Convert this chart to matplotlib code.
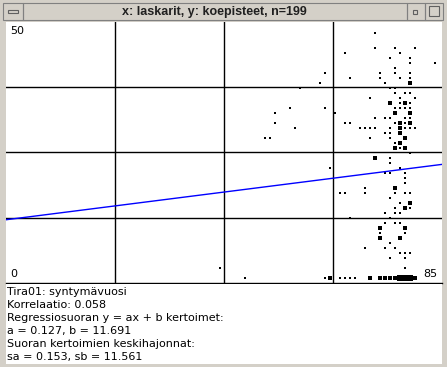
import matplotlib.pyplot as plt
from matplotlib.patches import Rectangle
from collections import Counter

# x: laskarit, y: koepisteet  (integer pairs, repeated pairs are drawn bigger)
laskarit = [
    73, 73, 77, 81, 67, 78, 76, 80, 85, 80, 77, 63, 74, 77, 80, 68, 74, 78, 80,
    62, 75, 80, 80, 58, 76, 77, 77, 79, 80, 72, 78, 81, 76, 76, 78, 79, 79, 79, 80,
    63, 56, 77, 78, 79, 80, 53, 65, 77, 77, 80, 80, 73, 75, 76, 79, 80,
    53, 67, 68, 77, 78, 78, 79, 80, 80, 57, 70, 71, 72, 73, 76, 78, 78, 79, 80, 81,
    75, 76, 78, 78, 51, 52, 72, 76, 79, 79, 77, 78, 78, 77, 77, 78, 79, 79,
    80, 73, 73, 76, 76, 64, 78, 75, 76, 79, 79, 79, 71, 77, 77,
    66, 67, 71, 77, 79, 80, 76, 78, 80, 80, 77, 79, 79, 80, 75, 77, 78,
    68, 76, 75, 77, 78, 74, 74, 79, 79, 74, 79, 74, 74, 78, 78, 78, 76,
    71, 75, 77, 78, 79, 80, 76, 79, 79, 42, 47,
    63, 64, 64, 66, 67, 68, 69, 72, 72, 74, 74, 74, 75, 75, 75, 75, 76, 76, 76,
    77, 77, 77, 78, 78, 78, 78, 78, 79, 79, 79, 79, 79, 79, 80, 80, 80, 80, 80,
    81, 81, 81,
]
koepisteet = [
    49, 46, 46, 46, 45, 45, 44, 44, 43, 43, 42, 41, 41, 41, 41, 40, 40, 40, 40,
    39, 39, 39, 39, 38, 38, 38, 37, 37, 37, 36, 36, 36, 35, 35, 35, 35, 35, 35, 35,
    34, 34, 34, 34, 34, 34, 33, 33, 33, 33, 33, 33, 32, 32, 32, 32, 32,
    31, 31, 31, 31, 31, 31, 31, 31, 31, 30, 30, 30, 30, 30, 30, 30, 30, 30, 30, 30,
    29, 29, 29, 29, 28, 28, 28, 28, 28, 28, 27, 27, 27, 26, 26, 26, 26, 26,
    25, 24, 24, 24, 23, 22, 22, 21, 21, 21, 20, 19, 18, 18, 18,
    17, 17, 17, 17, 17, 17, 16, 15, 15, 15, 14, 14, 14, 14, 13, 13, 13,
    12, 12, 11, 11, 11, 10, 10, 10, 10, 9, 9, 8, 8, 8, 8, 8, 7,
    6, 6, 6, 5, 5, 5, 4, 4, 2, 2, 0,
    0, 0, 0, 0, 0, 0, 0, 0, 0, 0, 0, 0, 0, 0, 0, 0, 0, 0, 0,
    0, 0, 0, 0, 0, 0, 0, 0, 0, 0, 0, 0, 0, 0, 0, 0, 0, 0, 0,
    0, 0, 0,
]

n = 199
a, b = 0.127, 11.691
stats = [
    "Tira01: syntymävuosi",
    "Korrelaatio: 0.058",
    "Regressiosuoran y = ax + b kertoimet:",
    "a = 0.127, b = 11.691",
    "Suoran kertoimien keskihajonnat:",
    "sa = 0.153, sb = 11.561",
]

W, H = 447, 367
GRAY = "#d4d0c8"

fig = plt.figure(figsize=(W / 100, H / 100), dpi=100, facecolor=GRAY)

def px_rect(x, y, w, h, **kw):
    # rectangle given in screen pixels (origin top-left)
    fig.patches.append(Rectangle((x / W, 1 - (y + h) / H), w / W, h / H,
                                 transform=fig.transFigure, **kw))

# window title bar
px_rect(0, 0, W, 22, facecolor=GRAY, edgecolor="none")
px_rect(3, 3, 20, 17, facecolor="none", edgecolor="#808080", lw=0.8)
px_rect(23, 3, 384, 17, facecolor="none", edgecolor="#808080", lw=0.8)
px_rect(407, 3, 18, 17, facecolor="none", edgecolor="#808080", lw=0.8)
px_rect(425, 3, 18, 17, facecolor="none", edgecolor="#808080", lw=0.8)
px_rect(8, 10, 10, 3, facecolor="none", edgecolor="#606060", lw=0.8)
px_rect(413, 10, 4, 4, facecolor="none", edgecolor="#606060", lw=0.8)
px_rect(429, 6, 10, 10, facecolor="none", edgecolor="#606060", lw=0.8)
fig.text(214 / W, 1 - 12 / H, f"x: laskarit, y: koepisteet, n={n}",
         ha="center", va="center", fontsize=9, fontweight="bold",
         family="Liberation Sans", color="#202020")

# white text panel under the plot
px_rect(6, 284, 436, 80, facecolor="white", edgecolor="none")
for i, line in enumerate(stats):
    fig.text(7 / W, 1 - (292 + 13 * i) / H, line, ha="left", va="center",
             fontsize=8, family="DejaVu Sans", color="black")

# plot area
ax = fig.add_axes([6 / W, 1 - 283 / H, 436 / W, 261 / H])
ax.set_facecolor("white")
xlim = (-0.8, 86.4)
ylim = (-1.06, 51.14)
ax.set_xlim(xlim)
ax.set_ylim(ylim)

for k in (1, 2, 3):
    ax.axvline(xlim[0] + k * (xlim[1] - xlim[0]) / 4, color="black", lw=1)
    ax.axhline(ylim[0] + k * (ylim[1] - ylim[0]) / 4, color="black", lw=1)

counts = Counter(zip(laskarit, koepisteet))
for (x, y), c in counts.items():
    side_px = 2.2 + 1.5 * (c - 1) ** 0.5
    ax.plot(x, y, marker="s", ms=side_px * 0.72, color="black", mew=0, ls="none")

ax.plot(xlim, [a * xlim[0] + b, a * xlim[1] + b], color="#0000ff", lw=1)

ax.text(0.01, 0.985, "50", transform=ax.transAxes, ha="left", va="top", fontsize=8)
ax.text(0.01, 0.015, "0", transform=ax.transAxes, ha="left", va="bottom", fontsize=8)
ax.text(0.99, 0.015, "85", transform=ax.transAxes, ha="right", va="bottom", fontsize=8)

ax.set_xticks([])
ax.set_yticks([])
for side in ("top", "left", "right"):
    ax.spines[side].set_visible(False)
ax.spines["bottom"].set_linewidth(1)

fig.savefig("out.png", dpi=100, facecolor=GRAY)
